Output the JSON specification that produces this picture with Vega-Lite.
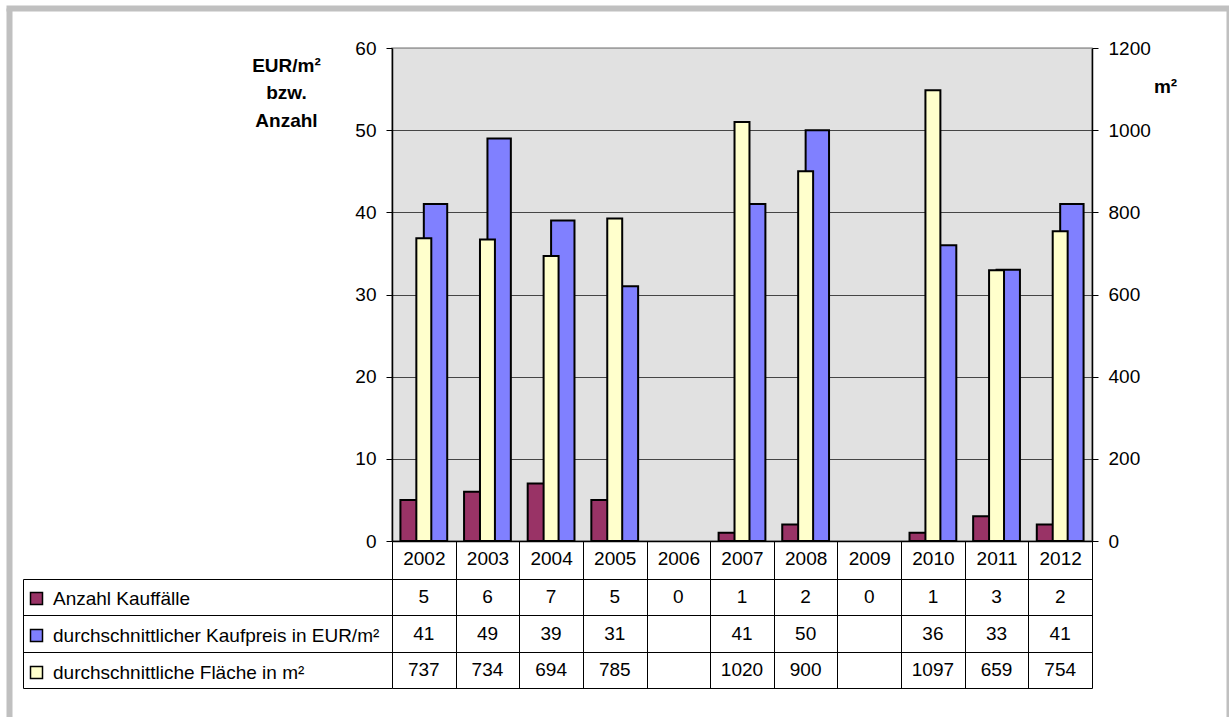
{
  "$schema": "https://vega.github.io/schema/vega-lite/v6.json",
  "width": 700,
  "height": 493,
  "autosize": {"type": "none"},
  "padding": {"left": 392, "top": 48, "right": 137, "bottom": 176},
  "background": "white",
  "config": {
    "view": {"fill": "#e1e1e1", "stroke": "#a0a0a0", "strokeWidth": 1.5},
    "font": "Liberation Sans",
    "axis": {"labelFont": "Liberation Sans", "labelFontSize": 19, "labelColor": "black", "titleFont": "Liberation Sans", "titleColor": "black", "domainColor": "black", "tickColor": "black"},
    "legend": {"labelFont": "Liberation Sans", "labelFontSize": 19, "labelColor": "black", "labelLimit": 500}
  },
  "data": {
    "values": [
      {"Jahr": "2002", "Reihe": "Anzahl Kauffälle", "Wert": 5},
      {"Jahr": "2002", "Reihe": "durchschnittlicher Kaufpreis in EUR/m²", "Wert": 41},
      {"Jahr": "2002", "Reihe": "durchschnittliche Fläche in m²", "Wert": 737},
      {"Jahr": "2003", "Reihe": "Anzahl Kauffälle", "Wert": 6},
      {"Jahr": "2003", "Reihe": "durchschnittlicher Kaufpreis in EUR/m²", "Wert": 49},
      {"Jahr": "2003", "Reihe": "durchschnittliche Fläche in m²", "Wert": 734},
      {"Jahr": "2004", "Reihe": "Anzahl Kauffälle", "Wert": 7},
      {"Jahr": "2004", "Reihe": "durchschnittlicher Kaufpreis in EUR/m²", "Wert": 39},
      {"Jahr": "2004", "Reihe": "durchschnittliche Fläche in m²", "Wert": 694},
      {"Jahr": "2005", "Reihe": "Anzahl Kauffälle", "Wert": 5},
      {"Jahr": "2005", "Reihe": "durchschnittlicher Kaufpreis in EUR/m²", "Wert": 31},
      {"Jahr": "2005", "Reihe": "durchschnittliche Fläche in m²", "Wert": 785},
      {"Jahr": "2006", "Reihe": "Anzahl Kauffälle", "Wert": 0},
      {"Jahr": "2007", "Reihe": "Anzahl Kauffälle", "Wert": 1},
      {"Jahr": "2007", "Reihe": "durchschnittlicher Kaufpreis in EUR/m²", "Wert": 41},
      {"Jahr": "2007", "Reihe": "durchschnittliche Fläche in m²", "Wert": 1020},
      {"Jahr": "2008", "Reihe": "Anzahl Kauffälle", "Wert": 2},
      {"Jahr": "2008", "Reihe": "durchschnittlicher Kaufpreis in EUR/m²", "Wert": 50},
      {"Jahr": "2008", "Reihe": "durchschnittliche Fläche in m²", "Wert": 900},
      {"Jahr": "2009", "Reihe": "Anzahl Kauffälle", "Wert": 0},
      {"Jahr": "2010", "Reihe": "Anzahl Kauffälle", "Wert": 1},
      {"Jahr": "2010", "Reihe": "durchschnittlicher Kaufpreis in EUR/m²", "Wert": 36},
      {"Jahr": "2010", "Reihe": "durchschnittliche Fläche in m²", "Wert": 1097},
      {"Jahr": "2011", "Reihe": "Anzahl Kauffälle", "Wert": 3},
      {"Jahr": "2011", "Reihe": "durchschnittlicher Kaufpreis in EUR/m²", "Wert": 33},
      {"Jahr": "2011", "Reihe": "durchschnittliche Fläche in m²", "Wert": 659},
      {"Jahr": "2012", "Reihe": "Anzahl Kauffälle", "Wert": 2},
      {"Jahr": "2012", "Reihe": "durchschnittlicher Kaufpreis in EUR/m²", "Wert": 41},
      {"Jahr": "2012", "Reihe": "durchschnittliche Fläche in m²", "Wert": 754}
    ]
  },
  "layer": [
    {
      "mark": {"type": "point", "opacity": 0},
      "encoding": {
        "x": {"field": "Jahr", "type": "ordinal",
          "scale": {"type": "point", "domain": ["2002", "2003", "2004", "2005", "2006", "2007", "2008", "2009", "2010", "2011", "2012"], "padding": 0, "range": [-383, 837]},
          "axis": {"orient": "top", "offset": 40, "title": null, "labels": false, "values": ["2002", "2012"], "tickSize": -730, "tickWidth": 6, "tickColor": "#c0c0c0", "domainWidth": 6, "domainColor": "#c0c0c0", "domainCap": "square", "grid": false}}
      }
    },
    {
      "transform": [{"filter": "datum.Reihe !== 'durchschnittliche Fläche in m²'"}],
      "mark": {"type": "bar", "stroke": "black"},
      "encoding": {
        "x": {"field": "Jahr", "type": "nominal",
          "scale": {"domain": ["2002", "2003", "2004", "2005", "2006", "2007", "2008", "2009", "2010", "2011", "2012"], "paddingInner": 0, "paddingOuter": 0},
          "axis": {"title": null, "labelAngle": 0, "tickBand": "extent", "tickSize": 147, "labelPadding": -130, "labelBaseline": "middle", "domainWidth": 1.5}},
        "xOffset": {"field": "Reihe", "type": "nominal", "scale": {"domain": ["Anzahl Kauffälle", "durchschnittlicher Kaufpreis in EUR/m²"], "paddingInner": 0, "paddingOuter": 0.36}},
        "y": {"field": "Wert", "type": "quantitative", "scale": {"domain": [0, 60]},
          "axis": {"orient": "left", "values": [0, 10, 20, 30, 40, 50, 60], "grid": true,
            "gridColor": {"condition": {"test": "datum.value === 60", "value": "#a0a0a0"}, "value": "#454545"},
            "tickSize": 6, "labelPadding": 10, "domainWidth": 1.5,
            "title": ["EUR/m²", "bzw.", "Anzahl"], "titleAngle": 0, "titleFontSize": 19, "titleFontWeight": "bold", "titleAlign": "center", "titleBaseline": "alphabetic", "titleLineHeight": 27.5, "titleX": -106, "titleY": 23}},
        "strokeWidth": {"condition": {"test": "datum.Wert === 0", "value": 0}, "value": 2},
        "color": {"field": "Reihe", "type": "nominal",
          "scale": {"domain": ["Anzahl Kauffälle", "durchschnittlicher Kaufpreis in EUR/m²", "durchschnittliche Fläche in m²"], "range": ["#993366", "#8080ff", "#ffffcc"]},
          "legend": {"title": null, "orient": "none", "legendX": -365, "legendY": 541, "symbolType": "square", "symbolSize": 144, "symbolStrokeColor": "black", "symbolStrokeWidth": 1.5, "rowPadding": 17, "labelOffset": 7, "padding": 0}}
      }
    },
    {
      "transform": [{"filter": "datum.Reihe === 'durchschnittliche Fläche in m²'"}],
      "mark": {"type": "bar", "stroke": "black", "strokeWidth": 2, "width": {"band": 0.235}},
      "encoding": {
        "x": {"field": "Jahr", "type": "nominal",
          "scale": {"domain": ["2002", "2003", "2004", "2005", "2006", "2007", "2008", "2009", "2010", "2011", "2012"], "paddingInner": 0, "paddingOuter": 0},
          "axis": null},
        "y": {"field": "Wert", "type": "quantitative", "scale": {"domain": [0, 1200]},
          "axis": {"orient": "right", "values": [0, 200, 400, 600, 800, 1000, 1200], "format": "d", "grid": false, "tickSize": 6, "labelPadding": 10, "domainWidth": 1.5,
            "title": "m²", "titleAngle": 0, "titleFontSize": 19, "titleFontWeight": "bold", "titleAlign": "center", "titleBaseline": "alphabetic", "titleX": 73, "titleY": 44}},
        "color": {"field": "Reihe", "type": "nominal"}
      }
    },
    {
      "mark": {"type": "text", "fontSize": 19, "font": "Liberation Sans", "color": "black", "baseline": "middle", "align": "center"},
      "encoding": {
        "x": {"field": "Jahr", "type": "nominal",
          "scale": {"domain": ["2002", "2003", "2004", "2005", "2006", "2007", "2008", "2009", "2010", "2011", "2012"], "paddingInner": 0, "paddingOuter": 0},
          "axis": null},
        "y": {"field": "Reihe", "type": "nominal",
          "scale": {"domain": ["Anzahl Kauffälle", "durchschnittlicher Kaufpreis in EUR/m²", "durchschnittliche Fläche in m²"], "range": [531, 640], "paddingInner": 0, "paddingOuter": 0},
          "axis": {"orient": "left", "title": null, "labels": false, "offset": 369, "tickSize": -369, "tickBand": "extent", "grid": true, "gridColor": "black", "domainColor": "black"}},
        "text": {"field": "Wert", "type": "quantitative"}
      }
    }
  ],
  "resolve": {"scale": {"x": "independent", "y": "independent"}}
}
